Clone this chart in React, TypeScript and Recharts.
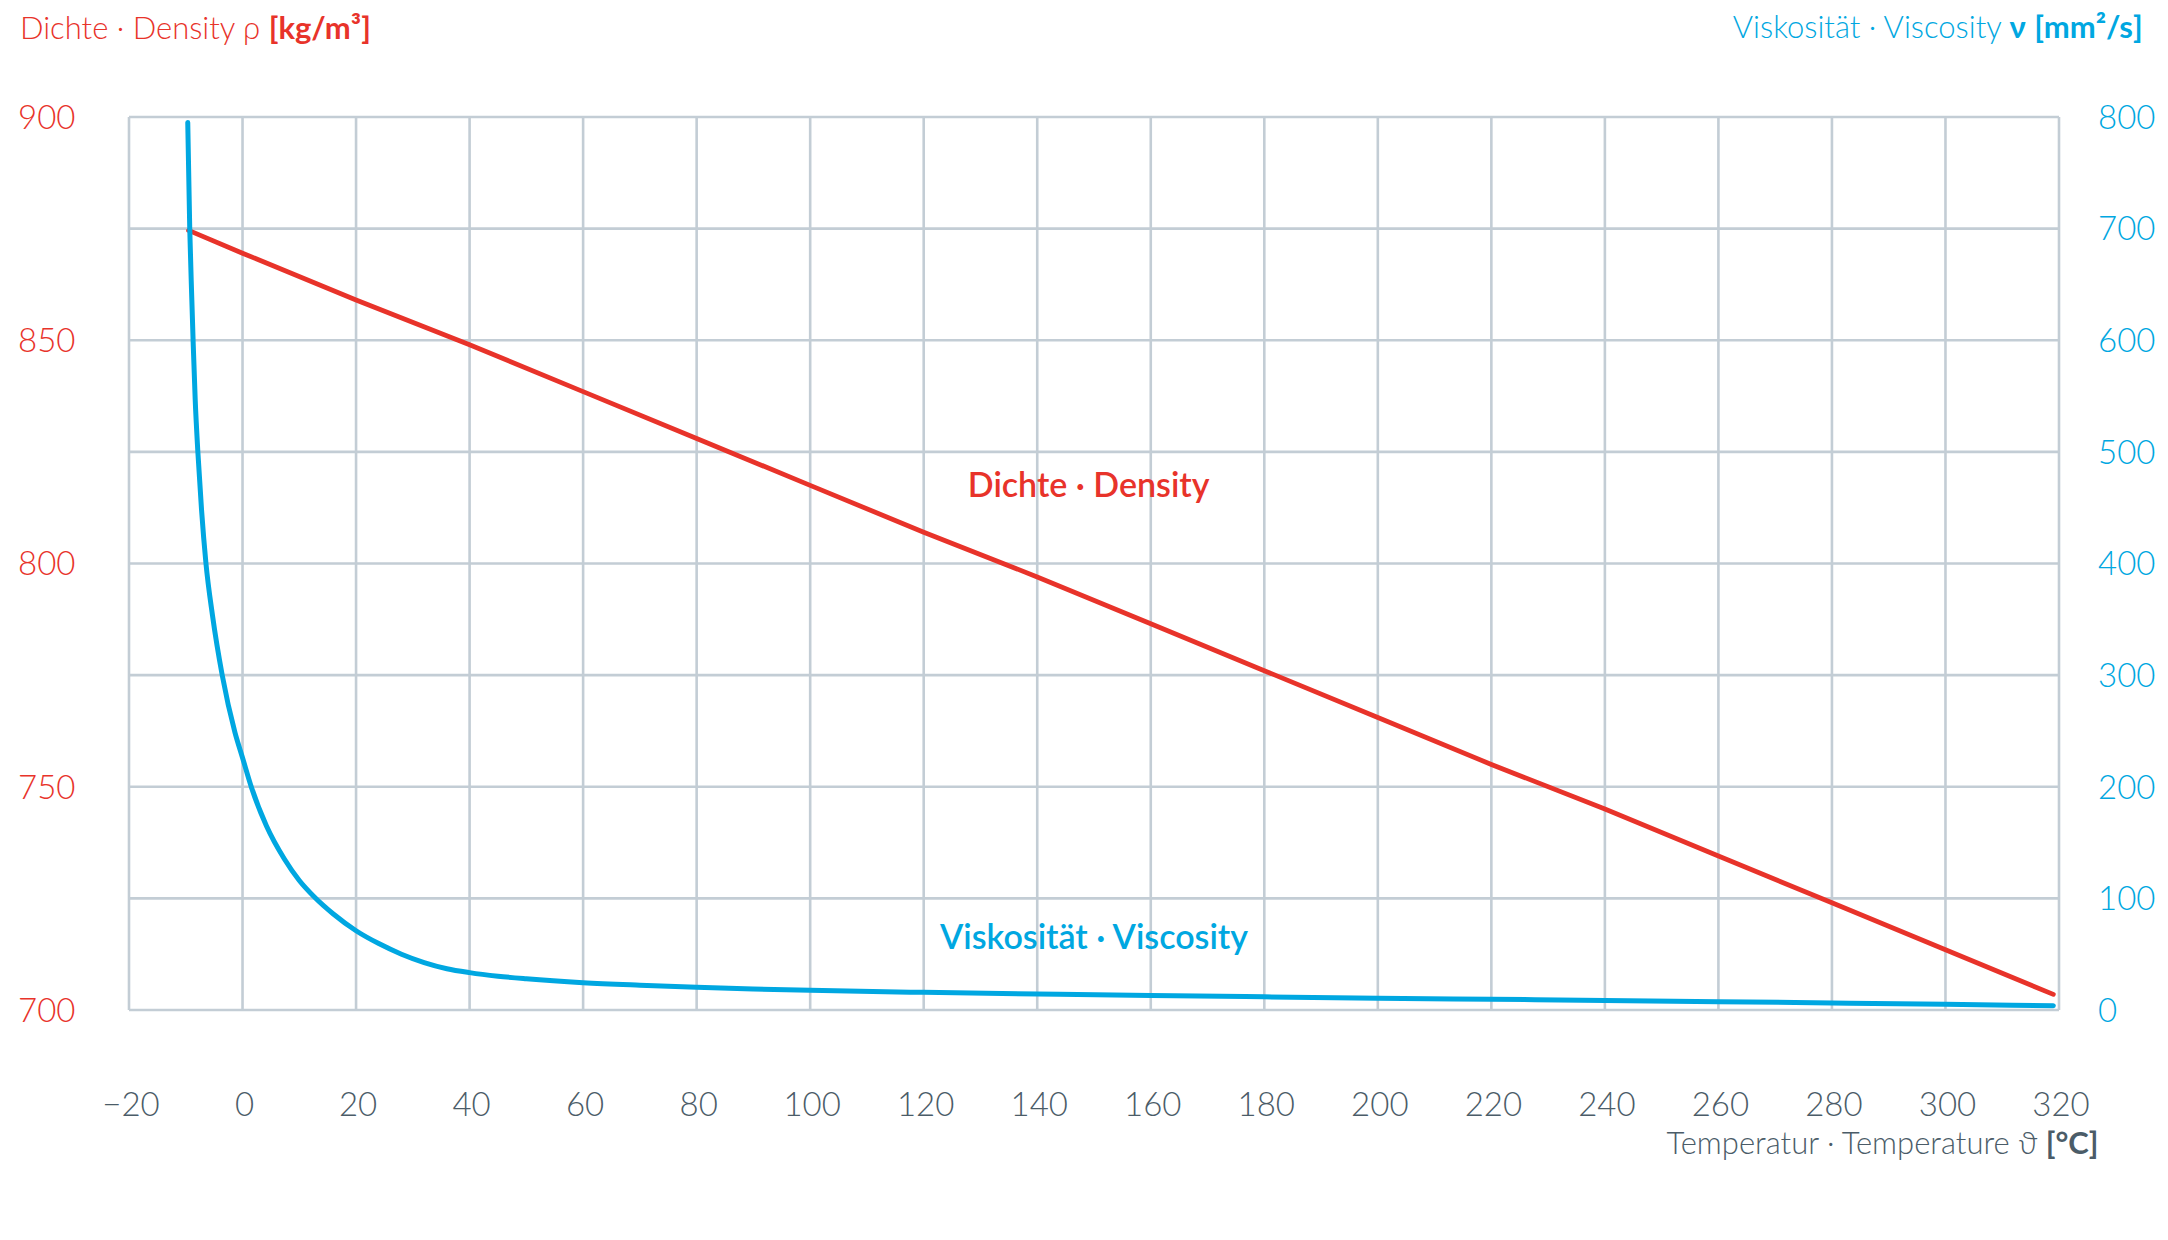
import React from "react";
import { LineChart, Line, XAxis, YAxis, CartesianGrid } from "recharts";

// ---- Data ----
const densityTemps = [-9.5, 0, 20, 40, 60, 80, 100, 120, 140, 160, 180, 200, 220, 240, 260, 280, 300, 319];
const densityValues = [874.6, 869.5, 859, 849, 838.5, 828, 817.5, 807, 797, 786.5, 776, 765.5, 755, 745, 734.5, 724, 713.5, 703.5];

const viscosityTemps = [-9.65, -9.3, -8.93, -8.69, -8.34, -7.87, -7.22, -6.46, -5.28, -3.58, -1.35, 0, 1.6, 4.2, 7.4, 10, 12.7, 16, 20, 24, 28, 32, 36, 40, 45, 50, 60, 70, 80, 90, 100, 120, 140, 160, 180, 200, 220, 240, 260, 280, 300, 319];
const viscosityValues = [795, 700, 636, 597, 547, 500, 448, 401, 353, 300, 249, 226, 199, 165, 135, 116, 101, 86, 71, 59.5, 50, 42.5, 37, 33.5, 30.3, 28, 24.5, 22.2, 20.3, 18.8, 17.6, 15.8, 14.3, 13.0, 11.8, 10.6, 9.6, 8.6, 7.5, 6.3, 5.1, 3.9];

const xTicks = [-20, 0, 20, 40, 60, 80, 100, 120, 140, 160, 180, 200, 220, 240, 260, 280, 300, 320];
const densityTicks = [700, 750, 800, 850, 900];
const viscosityTicks = [0, 100, 200, 300, 400, 500, 600, 700, 800];

const densityData = densityTemps.map((t, i) => ({ t, rho: densityValues[i] }));
const viscosityData = viscosityTemps.map((t, i) => ({ t, nu: viscosityValues[i] }));

// ---- Style ----
const RED = "#e8332a";
const BLUE = "#00a7e1";
const GRID = "#c3cdd5";
const SLATE = "#4b5c68";
const FONT = "Lato, 'Open Sans', 'DejaVu Sans', sans-serif";
const W = 2152;
const H = 1220;
const TICK_FS = 33;

const fmt = (v: number) => (v < 0 ? "\u2212" + Math.abs(v) : String(v));

const XTick = (props: any) => {
  const { x, y, payload } = props;
  return (
    <text x={x + 2} y={y + 105.5} textAnchor="middle" fill={SLATE} fontSize={TICK_FS} fontWeight={300} fontFamily={FONT}>
      {fmt(payload.value)}
    </text>
  );
};

const LeftTick = (props: any) => {
  const { x, y, payload } = props;
  return (
    <text x={x - 111} y={y + 11.8} textAnchor="start" fill={RED} fontSize={TICK_FS} fontWeight={300} fontFamily={FONT}>
      {payload.value}
    </text>
  );
};

const RightTick = (props: any) => {
  const { x, y, payload } = props;
  return (
    <text x={x + 39} y={y + 11.8} textAnchor="start" fill={BLUE} fontSize={TICK_FS} fontWeight={300} fontFamily={FONT}>
      {payload.value}
    </text>
  );
};

export default function App() {
  return (
    <div style={{ position: "relative", width: W, height: H, fontFamily: FONT }}>
      <LineChart width={W} height={H} margin={{ top: 109, right: 0, bottom: 0, left: 0 }}>
        <CartesianGrid yAxisId="right" stroke={GRID} strokeWidth={2.6} />
        <XAxis
          type="number"
          dataKey="t"
          domain={[-20, 320]}
          ticks={xTicks}
          interval={0}
          allowDataOverflow
          axisLine={false}
          tickLine={false}
          tickSize={0}
          tickMargin={0}
          height={218}
          tick={<XTick />}
        />
        <YAxis
          yAxisId="left"
          orientation="left"
          domain={[700, 900]}
          ticks={densityTicks}
          interval={0}
          axisLine={false}
          tickLine={false}
          tickSize={0}
          tickMargin={0}
          width={121}
          tick={<LeftTick />}
        />
        <YAxis
          yAxisId="right"
          orientation="right"
          domain={[0, 800]}
          ticks={viscosityTicks}
          interval={0}
          axisLine={false}
          tickLine={false}
          tickSize={0}
          tickMargin={0}
          width={101}
          tick={<RightTick />}
        />
        <Line
          yAxisId="left"
          data={densityData}
          dataKey="rho"
          type="linear"
          stroke={RED}
          strokeWidth={4.8}
          strokeLinecap="round"
          dot={false}
          activeDot={false}
          isAnimationActive={false}
        />
        <Line
          yAxisId="right"
          data={viscosityData}
          dataKey="nu"
          type="monotone"
          stroke={BLUE}
          strokeWidth={5}
          strokeLinecap="round"
          dot={false}
          activeDot={false}
          isAnimationActive={false}
        />
      </LineChart>
      <svg
        width={W + 8}
        height={H + 8}
        style={{ position: "absolute", left: -8, top: -8, pointerEvents: "none", overflow: "visible" }}
      >
        <g transform="translate(8 8)">
          <text x={12} y={31} fill={RED} fontSize={31} fontWeight={300} fontFamily={FONT}>
            Dichte · Density ρ <tspan fontWeight={700}>[kg/m³]</tspan>
          </text>
          <text x={2134.7} y={30.3} textAnchor="end" fill={BLUE} fontSize={31} fontWeight={300} fontFamily={FONT}>
            Viskosität · Viscosity <tspan fontWeight={700}>ν</tspan> <tspan fontWeight={700}>[mm²/s]</tspan>
          </text>
          <text x={2090.6} y={1146} textAnchor="end" fill={SLATE} fontSize={31} fontWeight={300} fontFamily={FONT}>
            Temperatur · Temperature ϑ <tspan fontWeight={700}>[°C]</tspan>
          </text>
          <text x={1080.7} y={488.7} textAnchor="middle" fill={RED} fontSize={34} fontWeight={600} fontFamily={FONT}>
            Dichte · Density
          </text>
          <text x={1086} y={941.3} textAnchor="middle" fill={BLUE} fontSize={34} fontWeight={600} fontFamily={FONT}>
            Viskosität · Viscosity
          </text>
        </g>
      </svg>
    </div>
  );
}
